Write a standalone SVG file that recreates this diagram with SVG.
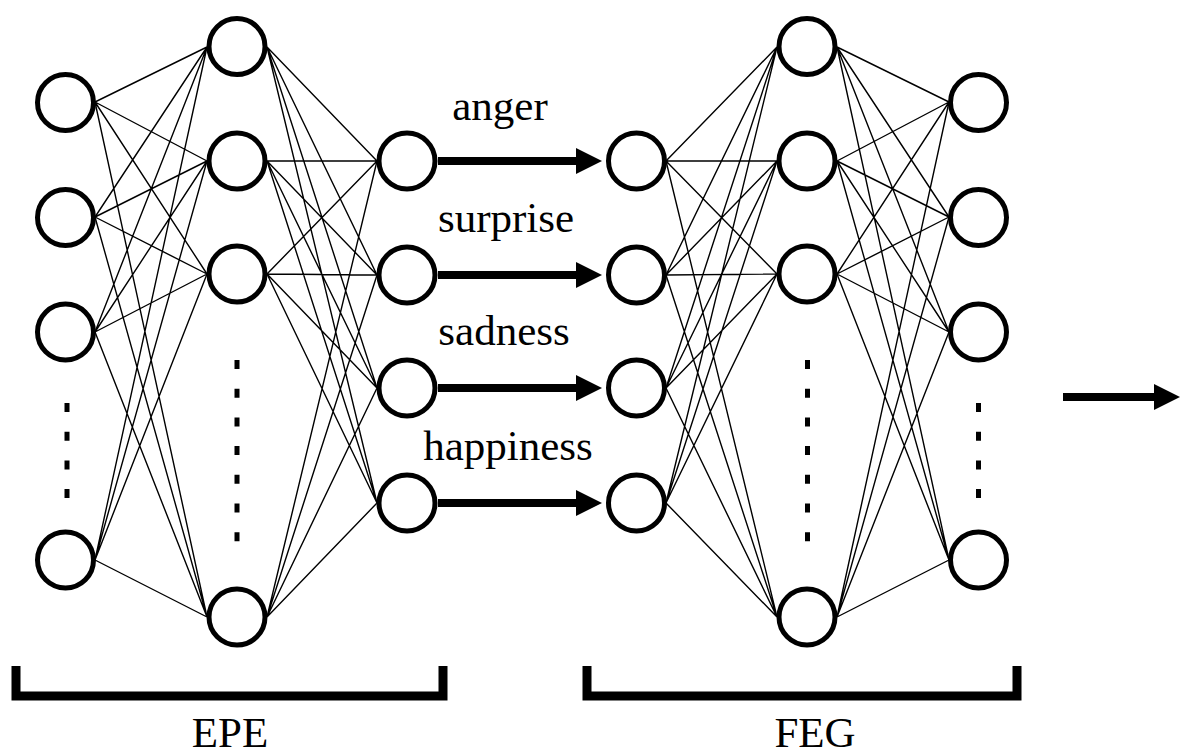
<svg xmlns="http://www.w3.org/2000/svg" width="1181" height="756" viewBox="0 0 1181 756">
<style>
.node{fill:#fff;stroke:#000;stroke-width:5}
.edge{stroke:#000;stroke-width:1.4;fill:none}
.dots{stroke:#000;stroke-width:5;stroke-dasharray:9 19.7;fill:none}
.arrow{stroke:#000;stroke-width:8;fill:none}
.lbl{font-family:"Liberation Serif","Times New Roman",serif;font-size:43px;fill:#000;text-anchor:middle}
.brk{stroke:#000;fill:none;stroke-width:9;stroke-linejoin:miter}
</style>
<defs>
<marker id="ah" markerUnits="userSpaceOnUse" viewBox="0 0 26 26" refX="2" refY="13" markerWidth="26" markerHeight="26" orient="auto">
<path d="M0,0 L26,13 L0,26 Z" fill="#000"/>
</marker>
</defs>
<rect width="1181" height="756" fill="#fff"/>
<g id="connectors">
<!-- col1 -> col2 -->
<path class="edge" d="M95,102 L207,47 M95,102 L207,161 M95,102 L207,274 M95,102 L207,617
M95,217 L207,47 M95,217 L207,161 M95,217 L207,274 M95,217 L207,617
M95,332 L207,47 M95,332 L207,161 M95,332 L207,274 M95,332 L207,617
M95,560 L207,47 M95,560 L207,161 M95,560 L207,274 M95,560 L207,617"/>
<!-- col2 -> col3 -->
<path class="edge" d="M267,47 L377,161 M267,47 L377,275 M267,47 L377,388 M267,47 L377,503
M267,161 L377,161 M267,161 L377,275 M267,161 L377,388 M267,161 L377,503
M267,274 L377,161 M267,274 L377,275 M267,274 L377,388 M267,274 L377,503
M267,617 L377,161 M267,617 L377,275 M267,617 L377,388 M267,617 L377,503"/>
<!-- col4 -> col5 -->
<path class="edge" d="M666,161 L777,47 M666,161 L777,161 M666,161 L777,274 M666,161 L777,617
M666,275 L777,47 M666,275 L777,161 M666,275 L777,274 M666,275 L777,617
M666,388 L777,47 M666,388 L777,161 M666,388 L777,274 M666,388 L777,617
M666,503 L777,47 M666,503 L777,161 M666,503 L777,274 M666,503 L777,617"/>
<!-- col5 -> col6 -->
<path class="edge" d="M837,47 L949,102 M837,47 L949,217 M837,47 L949,332 M837,47 L949,560
M837,161 L949,102 M837,161 L949,217 M837,161 L949,332 M837,161 L949,560
M837,274 L949,102 M837,274 L949,217 M837,274 L949,332 M837,274 L949,560
M837,617 L949,102 M837,617 L949,217 M837,617 L949,332 M837,617 L949,560"/>
<!-- emotion arrows -->
<line class="arrow" x1="438" y1="161" x2="578" y2="161" marker-end="url(#ah)"/>
<line class="arrow" x1="438" y1="275" x2="578" y2="275" marker-end="url(#ah)"/>
<line class="arrow" x1="438" y1="388" x2="578" y2="388" marker-end="url(#ah)"/>
<line class="arrow" x1="438" y1="503" x2="578" y2="503" marker-end="url(#ah)"/>
<!-- output arrow -->
<line class="arrow" x1="1063" y1="397" x2="1156" y2="397" stroke-width="9" marker-end="url(#ah)"/>
</g>
<g id="col1">
<circle id="n1a" class="node" cx="65.5" cy="102.5" r="28"/>
<circle id="n1b" class="node" cx="65.5" cy="217.5" r="28"/>
<circle id="n1c" class="node" cx="65.5" cy="332" r="28"/>
<circle id="n1d" class="node" cx="65.5" cy="560" r="28"/>
<line class="dots" x1="67" y1="403" x2="67" y2="500"/>
</g>
<g id="col2">
<circle id="n2a" class="node" cx="237" cy="46.5" r="28"/>
<circle id="n2b" class="node" cx="237" cy="161" r="28"/>
<circle id="n2c" class="node" cx="237" cy="274" r="28"/>
<circle id="n2d" class="node" cx="237" cy="617" r="28"/>
<line class="dots" x1="237" y1="360" x2="237" y2="545"/>
</g>
<g id="col3">
<circle id="n3a" class="node" cx="407" cy="161" r="28"/>
<circle id="n3b" class="node" cx="407" cy="275" r="28"/>
<circle id="n3c" class="node" cx="407" cy="388" r="28"/>
<circle id="n3d" class="node" cx="407" cy="503" r="28"/>
</g>
<g id="col4">
<circle id="n4a" class="node" cx="636.5" cy="161" r="28"/>
<circle id="n4b" class="node" cx="636.5" cy="275" r="28"/>
<circle id="n4c" class="node" cx="636.5" cy="388" r="28"/>
<circle id="n4d" class="node" cx="636.5" cy="503" r="28"/>
</g>
<g id="col5">
<circle id="n5a" class="node" cx="807" cy="46.5" r="28"/>
<circle id="n5b" class="node" cx="807" cy="161" r="28"/>
<circle id="n5c" class="node" cx="807" cy="274" r="28"/>
<circle id="n5d" class="node" cx="807" cy="617" r="28"/>
<line class="dots" x1="807.5" y1="360" x2="807.5" y2="545"/>
</g>
<g id="col6">
<circle id="n6a" class="node" cx="978.5" cy="102.5" r="28"/>
<circle id="n6b" class="node" cx="978.5" cy="217.5" r="28"/>
<circle id="n6c" class="node" cx="978.5" cy="332" r="28"/>
<circle id="n6d" class="node" cx="978.5" cy="560" r="28"/>
<line class="dots" x1="978.5" y1="403" x2="978.5" y2="500"/>
</g>
<g id="labels">
<text class="lbl" x="500" y="120">anger</text>
<text class="lbl" x="506" y="232">surprise</text>
<text class="lbl" x="504" y="345">sadness</text>
<text class="lbl" x="508" y="460">happiness</text>
</g>
<g id="epe">
<path class="brk" d="M16,666 V696 H443 V666"/>
<text class="lbl" x="230" y="747">EPE</text>
</g>
<g id="feg">
<path class="brk" d="M587,666 V696 H1017 V666"/>
<text class="lbl" x="815" y="747">FEG</text>
</g>
</svg>
